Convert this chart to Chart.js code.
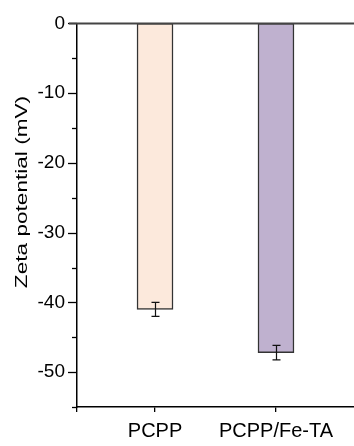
<!DOCTYPE html>
<html>
<head>
<meta charset="utf-8">
<script src="https://cdn.jsdelivr.net/npm/chart.js@4/dist/chart.umd.min.js"></script>
<style>
html,body{margin:0;padding:0;background:#fff;}
#wrap{width:354px;height:446px;position:relative;}
</style>
</head>
<body>
<div id="wrap"><canvas id="c" width="354" height="446"></canvas></div>
<script>
const categories = ['PCPP', 'PCPP/Fe-TA'];
const zetaValues = [-41.0, -47.2];
const zetaErrors = [1.0, 1.05];
const barColors = ['#FCE9DC', '#BFB1CF'];
const yMin = -55, yMax = 0, yStep = 5;
const yTitle = 'Zeta potential (mV)';

const FONT = '"Liberation Sans", Arial, sans-serif';

const points = categories.map((c, i) => ({x: i, y: zetaValues[i]}));

const decorPlugin = {
  id: 'decor',
  afterDatasetsDraw(chart) {
    const ctx = chart.ctx;
    const y = chart.scales.y, x = chart.scales.x;
    const left = chart.chartArea.left;
    ctx.save();
    // error bars
    ctx.strokeStyle = '#111';
    ctx.lineWidth = 1.2;
    zetaValues.forEach((v, i) => {
      const px = Math.round(x.getPixelForValue(i)) + 0.5;
      const y1 = y.getPixelForValue(v - zetaErrors[i]);
      const y2 = y.getPixelForValue(v + zetaErrors[i]);
      ctx.beginPath();
      ctx.moveTo(px, y1); ctx.lineTo(px, y2);
      ctx.moveTo(px - 4, y1); ctx.lineTo(px + 4, y1);
      ctx.moveTo(px - 4, y2); ctx.lineTo(px + 4, y2);
      ctx.stroke();
    });
    // y ticks (major + minor)
    ctx.strokeStyle = '#000';
    ctx.lineWidth = 1.3;
    for (let v = yMax; v >= yMin; v -= yStep) {
      const py = Math.round(y.getPixelForValue(v)) + 0.5;
      const len = (v % 10 === 0) ? 9 : 5;
      ctx.beginPath();
      ctx.moveTo(left - len, py); ctx.lineTo(left, py);
      ctx.stroke();
    }
    // zero line at top
    const pz = y.getPixelForValue(0);
    ctx.strokeStyle = '#444';
    ctx.lineWidth = 2;
    ctx.beginPath();
    ctx.moveTo(left - 8, pz); ctx.lineTo(chart.width, pz);
    ctx.stroke();
    // y axis title (stretched along its length as in the reference)
    ctx.fillStyle = '#000';
    ctx.font = '17px ' + FONT;
    ctx.textAlign = 'center';
    ctx.textBaseline = 'middle';
    ctx.translate(22, 192);
    ctx.rotate(-Math.PI / 2);
    ctx.scale(1.33, 1);
    ctx.fillText(yTitle, 0, 0);
    ctx.restore();
  }
};

new Chart(document.getElementById('c'), {
  type: 'bar',
  data: {
    datasets: [{
      data: points,
      backgroundColor: barColors,
      borderColor: '#333',
      borderWidth: 1.5,
      borderSkipped: false,
      barThickness: 36
    }]
  },
  options: {
    responsive: false,
    animation: false,
    devicePixelRatio: 1,
    layout: {padding: {top: 18, right: 0, left: 0, bottom: 0}},
    plugins: {legend: {display: false}, tooltip: {enabled: false}},
    scales: {
      x: {
        type: 'linear',
        offset: false,
        min: -0.645, max: 1.645,
        afterBuildTicks(scale) {
          scale.ticks = [{value: -0.645}, {value: 0}, {value: 1}];
        },
        afterFit(scale) { scale.height = 39; },
        grid: {display: true, drawOnChartArea: false, drawTicks: true, tickLength: 5, color: '#000', lineWidth: 1.3, offset: false},
        border: {display: true, color: '#000', width: 1.5},
        ticks: {
          autoSkip: false,
          maxRotation: 0,
          padding: 7,
          color: '#000',
          font: {family: FONT, size: 20},
          callback(v) { return Number.isInteger(v) ? categories[v] : ''; }
        }
      },
      y: {
        min: yMin, max: yMax,
        afterFit(scale) { scale.width = 77; },
        grid: {display: false, drawTicks: false},
        border: {display: true, color: '#000', width: 1.5},
        ticks: {
          stepSize: yStep,
          padding: 12,
          color: '#000',
          font: {family: FONT, size: 19},
          callback(v) { return (v % 10 === 0) ? String(v) : ''; }
        }
      }
    }
  },
  plugins: [decorPlugin]
});
</script>
</body>
</html>
